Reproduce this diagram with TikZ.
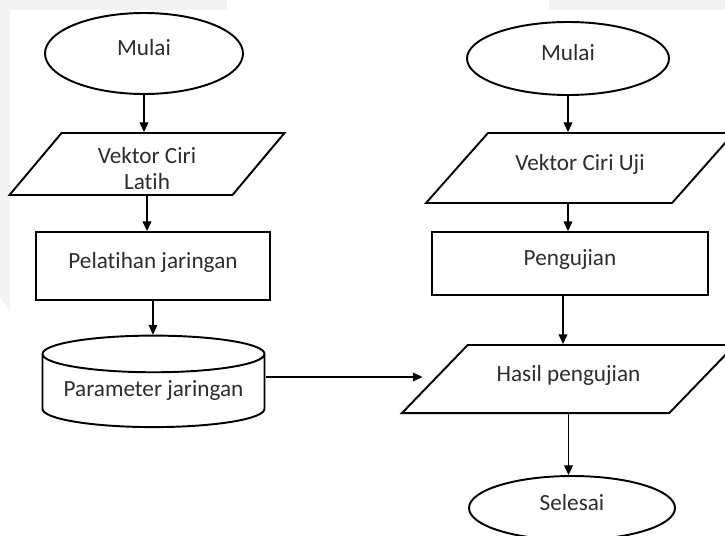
\documentclass[tikz,border=0pt]{standalone}
\usepackage{fontspec}
\setmainfont{Carlito}[Ligatures={NoCommon,NoContextual}]
\usetikzlibrary{shapes.geometric, arrows.meta}
\definecolor{ink}{RGB}{45, 45, 45}
\definecolor{scanbg}{RGB}{243, 243, 243}

\begin{document}
\begin{tikzpicture}[
	>={Triangle[length=5.5pt, width=5pt]},
	font=\fontsize{13.2}{14.8}\selectfont,
	% Styles for the flowchart blocks
	terminal/.style={draw=black, line width=1.1pt, ellipse, text=ink, inner sep=0pt, text height=7.2pt, text depth=4.5pt},
	datablock/.style={draw=black, line width=1.1pt, trapezium, trapezium stretches body=true, text=ink, inner sep=0pt, text height=7.2pt, text depth=4.5pt},
	process/.style={draw=black, line width=1.1pt, rectangle, text=ink, inner sep=0pt, text height=7.2pt, text depth=4.5pt},
	storage/.style={draw=black, line width=1.1pt, cylinder, shape border rotate=90, aspect=0.204, text=ink, inner sep=0pt},
	% Style for connectors
	flow/.style={->, line width=0.6pt, black}
	]
	
	\clip (0, 0) rectangle (14.5, 10.7);
	
	% light scan border strips
	\fill[scanbg] (0, 10.5) rectangle (4.54, 10.7);
	\fill[scanbg] (10.98, 10.5) rectangle (14.5, 10.7);
	\fill[scanbg] (0, 10.7) -- (0.2, 10.7) -- (0.2, 4.46) -- (0, 4.76) -- cycle;
	
	% ==========================================
	% LEFT: TRAINING
	% ==========================================
	\node[terminal, minimum width=3.96cm, minimum height=1.62cm] (mulaiA) at (2.88, 9.63) {Mulai};
	
	\node[datablock, trapezium left angle=50, trapezium right angle=130,
		minimum width=5.5cm, align=center,
		text height=32.4pt, text depth=2.9pt] (latih) at (2.94, 7.42) {Vektor Ciri\\Latih};
	
	\node[process, minimum width=4.68cm, minimum height=1.36cm] (pelatihan) at (3.06, 5.38) {Pelatihan jaringan};
	
	\node[storage, minimum width=4.44cm, minimum height=1.83cm] (param) at (3.07, 2.88) {Parameter jaringan};
	
	\draw[flow] (mulaiA.south) -- (mulaiA.south |- latih.north);
	\draw[flow] (latih.south) -- (latih.south |- pelatihan.north);
	\draw[flow] (pelatihan.south) -- (pelatihan.south |- param.north);
	
	% ==========================================
	% RIGHT: TESTING
	% ==========================================
	\node[terminal, minimum width=4.04cm, minimum height=1.46cm] (mulaiB) at (11.36, 9.53) {Mulai};
	
	\node[datablock, trapezium left angle=48.5, trapezium right angle=131.5,
		minimum width=6.16cm, inner ysep=0.495cm] (uji) at (11.6, 7.34) {Vektor Ciri Uji};
	
	\node[process, minimum width=5.52cm, minimum height=1.26cm] (pengujian) at (11.4, 5.43) {Pengujian};
	
	\node[datablock, trapezium left angle=46, trapezium right angle=134,
		minimum width=6.66cm, inner ysep=0.475cm] (hasil) at (11.37, 3.12) {Hasil pengujian};
	
	\node[terminal, minimum width=4.12cm, minimum height=1.28cm] (selesai) at (11.44, 0.54) {Selesai};
	
	\draw[flow] (mulaiB.south) -- (mulaiB.south |- uji.north);
	\draw[flow] (uji.south -| mulaiB.south) -- (pengujian.north -| mulaiB.south);
	\draw[flow] ([xshift=-0.14cm]pengujian.south) -- ([xshift=-0.14cm]pengujian.south |- hasil.north);
	\draw[flow] (hasil.south) -- (hasil.south |- selesai.north);
	
	% trained parameters feed the test result
	\draw[flow, shorten >=0.22cm] ([yshift=0.28cm]param.east) -- ([yshift=0.28cm]param.east -| hasil.west);
	
\end{tikzpicture}
\end{document}
